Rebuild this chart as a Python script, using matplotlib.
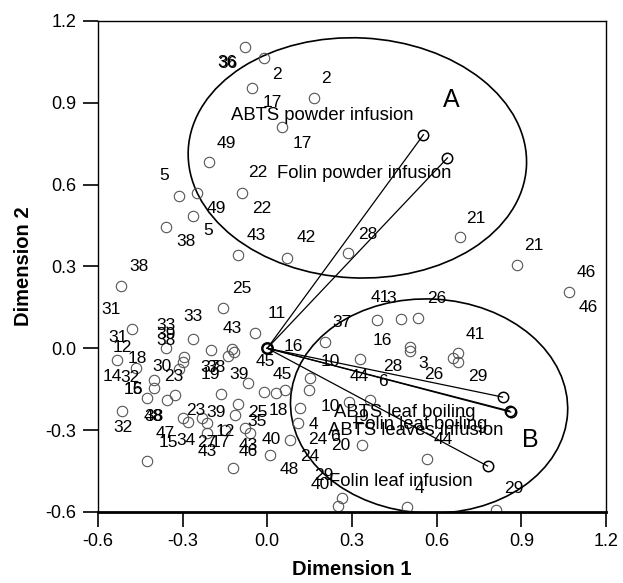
import matplotlib
matplotlib.use("Agg")
import matplotlib.pyplot as plt
from matplotlib.patches import Ellipse

plt.rcParams['font.family'] = ['Liberation Sans', 'DejaVu Sans']

# observation points (open grey circles)
obs_x = [-0.08, -0.01, -0.053, 0.167, 0.053, -0.206, -0.312, -0.248, -0.089, -0.262,
         -0.358, -0.103, 0.071, 0.287, 0.681, 0.883, 1.067, -0.518, -0.156, -0.479,
         -0.043, -0.262, -0.358, -0.199, -0.124, -0.117, -0.138, -0.532, -0.294, -0.298,
         -0.312, -0.465, -0.401, -0.401, -0.426, -0.355, -0.326, -0.163, -0.103, -0.067,
         -0.011, 0.032, 0.064, -0.514, -0.298, -0.280, -0.213, -0.230, -0.213, -0.113,
         -0.149, -0.078, -0.060, 0.011, -0.426, -0.121, 0.082, 0.117, 0.110, 0.149,
         0.152, 0.206, 0.330, 0.390, 0.475, 0.535, 0.504, 0.507, 0.656, 0.677,
         0.677, 0.291, 0.365, 0.337, 0.564, 0.266, 0.252, 0.496, 0.809]
obs_y = [1.105, 1.065, 0.955, 0.918, 0.812, 0.683, 0.559, 0.570, 0.570, 0.485,
         0.445, 0.342, 0.331, 0.350, 0.408, 0.306, 0.207, 0.229, 0.148, 0.071,
         0.056, 0.034, 0.001, -0.006, -0.003, -0.014, -0.028, -0.043, -0.032, -0.050,
         -0.076, -0.072, -0.116, -0.145, -0.182, -0.189, -0.171, -0.168, -0.204, -0.127,
         -0.160, -0.164, -0.153, -0.230, -0.256, -0.270, -0.274, -0.256, -0.311, -0.245,
         -0.300, -0.292, -0.311, -0.391, -0.413, -0.439, -0.336, -0.219, -0.274, -0.153,
         -0.109, 0.023, -0.039, 0.104, 0.107, 0.111, 0.005, -0.010, -0.036, -0.017,
         -0.050, -0.197, -0.190, -0.355, -0.406, -0.549, -0.578, -0.582, -0.593]

# observation labels
lab_text = ['36', '36', '2', '2', '17', '49', '17', '5', '22', '49', '22', '5', '38', '43',
            '42', '28', '21', '21', '46', '46', '38', '31', '25', '33', '43', '11', '33', '39',
            '38', '31', '12', '18', '30', '23', '14', '32', '15', '16', '37', '38', '19', '39',
            '45', '45', '16', '37', '41', '3', '26', '16', '41', '10', '44', '6', '28', '3',
            '26', '29', '48', '38', '32', '23', '39', '25', '18', '35', '12', '47', '15', '34',
            '27', '17', '43', '43', '46', '40', '10', '9', '4', '24', '6', '20', '44', '24',
            '48', '29', '40', '4', '29']
lab_x = [-0.142, -0.140, 0.035, 0.209, 0.018, -0.145, 0.124, -0.365, -0.032, -0.181, -0.021,
         -0.209, -0.287, -0.039, 0.138, 0.355, 0.738, 0.943, 1.131, 1.135, -0.454, -0.553,
         -0.089, -0.262, -0.124, 0.032, -0.358, -0.358, -0.358, -0.528, -0.514, -0.461,
         -0.372, -0.330, -0.550, -0.486, -0.475, -0.473, -0.202, -0.181, -0.202, -0.099,
         -0.007, 0.053, 0.092, 0.266, 0.401, 0.440, 0.599, 0.408, 0.738, 0.223, 0.326,
         0.411, 0.443, 0.553, 0.589, 0.745, -0.404, -0.402, -0.511, -0.252, -0.181, -0.035,
         0.039, -0.035, -0.149, -0.362, -0.351, -0.287, -0.213, -0.167, -0.213, -0.067,
         -0.067, 0.014, 0.223, 0.340, 0.163, 0.177, 0.241, 0.259, 0.624, 0.152, 0.078,
         0.199, 0.188, 0.539, 0.872]
lab_y = [1.047, 1.045, 1.003, 0.988, 0.900, 0.749, 0.749, 0.632, 0.643, 0.511, 0.511,
         0.430, 0.390, 0.412, 0.405, 0.416, 0.474, 0.375, 0.276, 0.148, 0.298, 0.141,
         0.218, 0.115, 0.074, 0.129, 0.082, 0.049, 0.030, 0.038, 0.001, -0.039,
         -0.068, -0.105, -0.105, -0.109, -0.153, -0.150, -0.072, -0.072, -0.098, -0.098,
         -0.050, -0.098, 0.005, 0.093, 0.185, 0.181, 0.181, 0.030, 0.052, -0.050, -0.105,
         -0.123, -0.068, -0.057, -0.098, -0.105, -0.252, -0.252, -0.289, -0.230, -0.234, -0.234,
         -0.230, -0.270, -0.307, -0.314, -0.344, -0.337, -0.347, -0.347, -0.377, -0.358,
         -0.380, -0.333, -0.215, -0.252, -0.281, -0.333, -0.322, -0.355, -0.336, -0.398, -0.446,
         -0.465, -0.501, -0.516, -0.516]

# variables (arrow ends) and their labels
var_x = [0.553, 0.638, 0.833, 0.862, 0.858, 0.780]
var_y = [0.783, 0.698, -0.179, -0.234, -0.230, -0.432]
var_names = ['ABTS powder infusion', 'Folin powder infusion', 'ABTS leaf boiling',
             'ABTS leaves infusion', 'Folin leaf boiling', 'Folin leaf infusion']
var_lab_x = [0.195, 0.344, 0.486, 0.525, 0.543, 0.472]
var_lab_y = [0.855, 0.639, -0.237, -0.300, -0.281, -0.490]

# group ellipses
groups = ['A', 'B']
ell_cx = [0.319, 0.573]
ell_cy = [0.698, -0.212]
ell_w = [1.199, 0.982]
ell_h = [0.880, 0.785]
ell_angle = [-3, -3]
group_lab_x = [0.652, 0.933]
group_lab_y = [0.911, -0.336]

fig = plt.figure(figsize=(6.23, 5.83), dpi=100)
ax = fig.add_axes([0.157, 0.122, 0.816, 0.842])

ax.plot(obs_x, obs_y, 'o', ms=7.5, mfc='none', mec='#555555', mew=0.8)

for t, x, y in zip(lab_text, lab_x, lab_y):
    ax.text(x, y, t, ha='center', va='center', fontsize=12.5)

# arrows from origin
for x, y in zip(var_x, var_y):
    ax.plot([0, x], [0, y], color='black', lw=0.9)
ax.plot(var_x, var_y, 'o', ms=7.5, mfc='none', mec='black', mew=1.1)
ax.plot([0], [0], 'o', ms=7.5, mfc='none', mec='black', mew=1.8)

for name, x, y in zip(var_names, var_lab_x, var_lab_y):
    ax.text(x, y, name, ha='center', va='center', fontsize=13.3)

for i in range(len(groups)):
    e = Ellipse((ell_cx[i], ell_cy[i]), ell_w[i], ell_h[i], angle=ell_angle[i],
                fill=False, ec='black', lw=1.2)
    ax.add_patch(e)
    ax.text(group_lab_x[i], group_lab_y[i], groups[i], ha='center', va='center', fontsize=18)

ax.set_xlim(-0.6, 1.2)
ax.set_ylim(-0.6, 1.2)
ax.set_xticks([-0.6, -0.3, 0.0, 0.3, 0.6, 0.9, 1.2])
ax.set_yticks([-0.6, -0.3, 0.0, 0.3, 0.6, 0.9, 1.2])
ax.set_xticklabels(['-0.6', '-0.3', '0.0', '0.3', '0.6', '0.9', '1.2'])
ax.set_yticklabels(['-0.6', '-0.3', '0.0', '0.3', '0.6', '0.9', '1.2'])
ax.tick_params(direction='out', length=10.5, width=1.2, labelsize=13, pad=5)
for s in ['left', 'top', 'right']:
    ax.spines[s].set_linewidth(1.0)
ax.spines['bottom'].set_linewidth(2.0)

ax.set_xlabel('Dimension 1', fontsize=14.5, fontweight='bold', labelpad=7)
ax.set_ylabel('Dimension 2', fontsize=14.5, fontweight='bold', labelpad=9)

fig.savefig('out.png', dpi=100)
